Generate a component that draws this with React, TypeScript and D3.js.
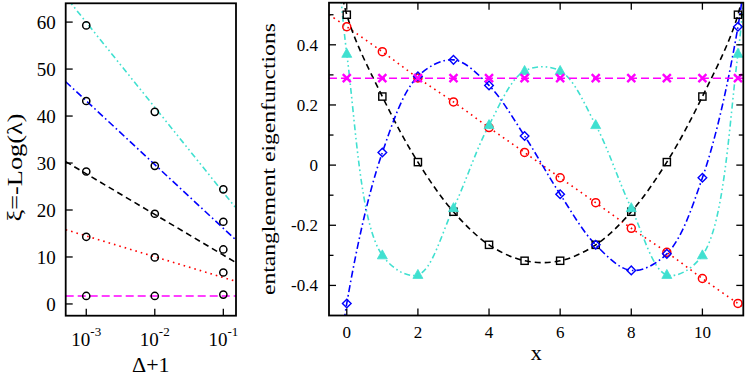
import React from 'react';
import * as d3 from 'd3';

// left panel: correlation length vs anisotropy
const deltas = [1e-3, 1e-2, 1e-1];
const xiMagenta = [1.7, 1.7, 2.0];
const xiRed = [14.3, 9.9, 6.7];
const xiBlack = [28.2, 19.2, 11.6];
const xiBlue = [43.2, 29.4, 17.5];
const xiCyan = [59.3, 40.9, 24.4];
// fitted straight lines, value at the left and right edge of the panel
const fitMagenta = [1.7, 1.7];
const fitRed = [15.8, 4.8];
const fitBlack = [30.3, 8.8];
const fitBlue = [47.3, 13.6];
const fitCyan = [65.4, 20.4];
const leftXTicks = [1e-3, 1e-2, 1e-1];
const leftXExp = ['-3', '-2', '-1'];
const leftYTicks = [0, 10, 20, 30, 40, 50, 60];

// right panel: entanglement eigenfunctions on sites 0..11
const sites = [0, 1, 2, 3, 4, 5, 6, 7, 8, 9, 10, 11];
const efMagenta = [0.289, 0.289, 0.289, 0.289, 0.289, 0.289, 0.289, 0.289, 0.289, 0.289, 0.289, 0.289];
const efRed = [0.46, 0.377, 0.29, 0.21, 0.125, 0.042, -0.042, -0.125, -0.21, -0.29, -0.377, -0.46];
const efBlack = [0.5, 0.228, 0.01, -0.155, -0.265, -0.318, -0.318, -0.265, -0.155, 0.01, 0.228, 0.5];
const efBlue = [-0.46, 0.042, 0.295, 0.35, 0.265, 0.097, -0.097, -0.265, -0.35, -0.295, -0.042, 0.46];
const efCyan = [0.37, -0.3, -0.365, -0.143, 0.133, 0.313, 0.313, 0.133, -0.143, -0.365, -0.3, 0.37];
// where the fitted curves leave the frame (x = -0.5 and x = 11.5)
const curveEndX = [-0.5, 11.5];
const endMagenta = [0.289, 0.289];
const endRed = [0.5, -0.5];
const endBlack = [0.85, 0.85];
const endBlue = [-1.0, 1.0];
const endCyan = [1.1, 1.1];
const rightXTicks = [0, 2, 4, 6, 8, 10];
const rightYMajor = [-0.4, -0.2, 0, 0.2, 0.4];
const rightYMinor = [-0.3, -0.1, 0.1, 0.3, 0.5];

const FONT = '"Liberation Serif", "Times New Roman", serif';
const W = 747, H = 376;
const L = { left: 65.7, right: 236, top: 3.3, bottom: 315.7 };
const R = { left: 329, right: 743.3, top: 2.7, bottom: 315.5 };

const xL = d3.scaleLog().domain([10 ** -3.3, 10 ** -0.815]).range([L.left, L.right]);
const yL = d3.scaleLinear().domain([-2.5, 64]).range([L.bottom, L.top]);
const xR = d3.scaleLinear().domain([-0.5, 11.15]).range([R.left, R.right]);
const yR = d3.scaleLinear().domain([-0.5, 0.54]).range([R.bottom, R.top]);

const styles = {
  magenta: { color: '#ff00ff', dash: '8 4' },
  red: { color: '#ff0000', dash: '1.6 4' },
  black: { color: '#000000', dash: '6 4' },
  blue: { color: '#0000ff', dash: '7 3 1.6 3' },
  cyan: { color: '#40e0d0', dash: '6 3 1.6 3 1.6 3' },
};

const leftSeries = [
  { key: 'magenta', pts: xiMagenta, fit: fitMagenta },
  { key: 'red', pts: xiRed, fit: fitRed },
  { key: 'black', pts: xiBlack, fit: fitBlack },
  { key: 'blue', pts: xiBlue, fit: fitBlue },
  { key: 'cyan', pts: xiCyan, fit: fitCyan },
];

const rightSeries = [
  { key: 'red', pts: efRed, ends: endRed, mark: 'circle' },
  { key: 'black', pts: efBlack, ends: endBlack, mark: 'square' },
  { key: 'blue', pts: efBlue, ends: endBlue, mark: 'diamond' },
  { key: 'cyan', pts: efCyan, ends: endCyan, mark: 'triangle' },
  { key: 'magenta', pts: efMagenta, ends: endMagenta, mark: 'cross' },
];

const Marker = ({ kind, x, y, color }: { kind: string; x: number; y: number; color: string }) => {
  if (kind === 'circle') return <circle cx={x} cy={y} r={4} fill="none" stroke={color} strokeWidth={1.5} />;
  if (kind === 'square') return <rect x={x - 3.6} y={y - 3.6} width={7.2} height={7.2} fill="none" stroke={color} strokeWidth={1.4} />;
  if (kind === 'diamond') return <path d={`M${x},${y - 4.3}L${x + 4.3},${y}L${x},${y + 4.3}L${x - 4.3},${y}Z`} fill="none" stroke={color} strokeWidth={1.4} />;
  if (kind === 'triangle') return <path d={`M${x},${y - 5.5}L${x + 5},${y + 3.5}L${x - 5},${y + 3.5}Z`} fill={color} stroke={color} strokeWidth={0.8} />;
  return <path d={`M${x - 4},${y - 4}L${x + 4},${y + 4}M${x - 4},${y + 4}L${x + 4},${y - 4}`} stroke={color} strokeWidth={2.4} />;
};

export default function App() {
  const curve = d3.line<[number, number]>()
    .x(d => xR(d[0]))
    .y(d => yR(d[1]))
    .curve(d3.curveCatmullRom.alpha(0.5));
  const fitLine = d3.line<[number, number]>().x(d => xL(d[0])).y(d => yL(d[1]));
  const [dLo, dHi] = xL.domain();

  return (
    <svg width={W} height={H} style={{ position: 'absolute', left: 0, top: 0, background: '#fff' }} fontFamily={FONT}>
      <defs>
        <clipPath id="clipL"><rect x={L.left} y={L.top} width={L.right - L.left} height={L.bottom - L.top} /></clipPath>
        <clipPath id="clipR"><rect x={R.left} y={R.top} width={R.right - R.left} height={R.bottom - R.top} /></clipPath>
      </defs>

      {/* left panel */}
      <g clipPath="url(#clipL)">
        {leftSeries.map(s => (
          <path key={s.key} d={fitLine([[dLo, s.fit[0]], [dHi, s.fit[1]]]) || ''} fill="none"
            stroke={styles[s.key].color} strokeWidth={1.6} strokeDasharray={styles[s.key].dash} />
        ))}
        {leftSeries.map(s => s.pts.map((v, i) => (
          <circle key={s.key + i} cx={xL(deltas[i])} cy={yL(v)} r={3.6} fill="none" stroke="#000" strokeWidth={1.5} />
        )))}
      </g>
      {leftYTicks.map(t => (
        <g key={t}>
          <line x1={L.left} x2={L.left + 7} y1={yL(t)} y2={yL(t)} stroke="#000" strokeWidth={1.3} />
          <text x={L.left - 10} y={yL(t)} dy="0.35em" textAnchor="end" fontSize={19}>{t}</text>
        </g>
      ))}
      {leftXTicks.map((t, i) => (
        <g key={t}>
          <line x1={xL(t)} x2={xL(t)} y1={L.bottom} y2={L.bottom - 7} stroke="#000" strokeWidth={1.3} />
          <text x={xL(t)} y={346} textAnchor="middle" fontSize={19}>
            10<tspan fontSize={13} dy={-10}>{leftXExp[i]}</tspan>
          </text>
        </g>
      ))}
      <rect x={L.left} y={L.top} width={L.right - L.left} height={L.bottom - L.top} fill="none" stroke="#000" strokeWidth={1.8} />
      <text x={(L.left + L.right) / 2} y={372} textAnchor="middle" fontSize={22}>Δ+1</text>
      <text transform={`translate(22,${(L.top + L.bottom) / 2 + 8}) rotate(-90)`} textAnchor="middle" fontSize={22}
        textLength={108} lengthAdjust="spacingAndGlyphs">ξ=-Log(λ)</text>

      {/* right panel */}
      <g clipPath="url(#clipR)">
        {rightSeries.map(s => {
          const pts: [number, number][] = [[curveEndX[0], s.ends[0]], ...sites.map((x, i) => [x, s.pts[i]] as [number, number]), [curveEndX[1], s.ends[1]]];
          return (
            <path key={s.key} d={curve(pts) || ''} fill="none" stroke={styles[s.key].color}
              strokeWidth={1.6} strokeDasharray={styles[s.key].dash} />
          );
        })}
        {rightSeries.map(s => sites.map((x, i) => (
          <Marker key={s.key + i} kind={s.mark} x={xR(x)} y={yR(s.pts[i])} color={styles[s.key].color} />
        )))}
      </g>
      {rightXTicks.map(t => (
        <g key={t}>
          <line x1={xR(t)} x2={xR(t)} y1={R.bottom} y2={R.bottom - 7} stroke="#000" strokeWidth={1.3} />
          <line x1={xR(t)} x2={xR(t)} y1={R.top} y2={R.top + 7} stroke="#000" strokeWidth={1.3} />
          <text x={xR(t)} y={338} textAnchor="middle" fontSize={17}>{t}</text>
        </g>
      ))}
      {rightYMajor.map(t => (
        <g key={t}>
          <line x1={R.left} x2={R.left + 7} y1={yR(t)} y2={yR(t)} stroke="#000" strokeWidth={1.3} />
          <line x1={R.right} x2={R.right - 7} y1={yR(t)} y2={yR(t)} stroke="#000" strokeWidth={1.3} />
          <text x={R.left - 11} y={yR(t)} dy="0.35em" textAnchor="end" fontSize={17}>{t === 0 ? '0' : t.toFixed(1)}</text>
        </g>
      ))}
      {rightYMinor.map(t => (
        <g key={t}>
          <line x1={R.left} x2={R.left + 4.5} y1={yR(t)} y2={yR(t)} stroke="#000" strokeWidth={1.3} />
          <line x1={R.right} x2={R.right - 4.5} y1={yR(t)} y2={yR(t)} stroke="#000" strokeWidth={1.3} />
        </g>
      ))}
      <rect x={R.left} y={R.top} width={R.right - R.left} height={R.bottom - R.top} fill="none" stroke="#000" strokeWidth={1.8} />
      <text x={(R.left + R.right) / 2} y={360} textAnchor="middle" fontSize={22}>x</text>
      <text transform={`translate(275,${(R.top + R.bottom) / 2}) rotate(-90)`} textAnchor="middle" fontSize={19}
        textLength={272} lengthAdjust="spacingAndGlyphs">entanglement eigenfunctions</text>
    </svg>
  );
}
